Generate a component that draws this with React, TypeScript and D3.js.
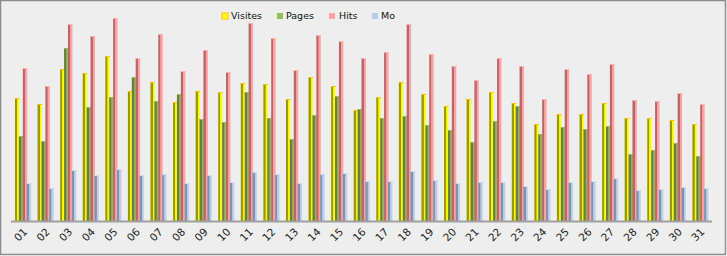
import React from "react";
import * as d3 from "d3";

const days = ["01","02","03","04","05","06","07","08","09","10","11","12","13","14","15","16","17","18","19","20","21","22","23","24","25","26","27","28","29","30","31"];
const visites = [123,117,152,148,165,130,139,119,130,129,138,137,122,144,135,111,124,139,127,115,122,129,118,97,107,107,118,103,103,101,97];
const pages = [85,80,173,114,124,144,120,127,102,99,129,103,82,106,125,112,103,105,96,91,79,100,115,87,94,92,95,67,71,78,65];
const hits = [153,135,197,185,203,163,187,150,171,149,198,183,151,186,180,163,169,197,167,155,141,163,155,122,152,147,157,121,120,128,117];
const mo = [38,33,51,46,52,46,47,38,46,39,49,47,38,47,48,40,40,50,41,38,39,39,35,32,39,40,43,31,32,34,33];

const seriesNames = ["Visites", "Pages", "Hits", "Mo"];
const seriesValues = [visites, pages, hits, mo];

const styles = [
  { dark: "#9c9a00", main: "#f2f200", light: "#ffff40", cap: "#ffc000", legend: "#ffff00", legendStroke: "#ffc000" },
  { dark: "#6b7f3c", main: "#8fab52", light: "#a4c062", cap: "#9bbb59", legend: "#9bbb59", legendStroke: "none" },
  { dark: "#b86868", main: "#ff9a9a", light: "#ffaaaa", cap: "#ffb0b0", legend: "#ff9f9f", legendStroke: "none" },
  { dark: "#7f93ae", main: "#b4c8e2", light: "#c6d6ec", cap: "#cfdcee", legend: "#b8cce4", legendStroke: "none" },
];

export default function App() {
  const W = 727, H = 256;
  const left = 12, right = 712, base = 221;
  const x = d3.scaleBand<string>().domain(days).range([left, right]).padding(0);
  const sx = d3.scalePoint<string>().domain(seriesNames).range([3, 14.7]);
  const y = d3.scaleLinear().domain([0, 210]).range([base, 11]);
  const bw = 4.5;

  const legendItems = [
    { name: "Visites", mx: 222, tx: 231 },
    { name: "Pages", mx: 277, tx: 286 },
    { name: "Hits", mx: 329, tx: 339 },
    { name: "Mo", mx: 372, tx: 381 },
  ];

  return (
    <div style={{ position: "absolute", left: 0, top: 0 }}>
      <svg width={W} height={H} style={{ display: "block" }} fontFamily="'DejaVu Sans', Verdana, sans-serif">
        <defs>
          {styles.map((s, i) => (
            <linearGradient key={i} id={`g${i}`} x1="0" x2="1" y1="0" y2="0">
              <stop offset="0%" stopColor={s.dark} />
              <stop offset="45%" stopColor={s.dark} />
              <stop offset="50%" stopColor={s.main} />
              <stop offset="100%" stopColor={s.light} />
            </linearGradient>
          ))}
        </defs>
        <rect x={0.5} y={0.5} width={W - 2} height={H - 2} fill="#eeeeee" stroke="#8c8c8c" strokeWidth={1.5} />
        {days.map((d, di) => (
          <g key={d}>
            {seriesNames.map((s, si) => {
              const v = seriesValues[si][di];
              const bx = (x(d) as number) + (sx(s) as number);
              const top = y(v);
              return (
                <g key={s}>
                  <rect x={bx} y={top} width={bw} height={base - top} fill={`url(#g${si})`} />
                  <rect x={bx} y={top} width={bw} height={1} fill={styles[si].cap} />
                </g>
              );
            })}
          </g>
        ))}
        <line x1={left - 1} x2={right} y1={base + 0.5} y2={base + 0.5} stroke="#a0a0a0" strokeWidth={2} />
        {days.map((d) => {
          const cx = (x(d) as number) + x.bandwidth() / 2 + 2;
          return (
            <text key={d} transform={`translate(${cx},${base + 9}) rotate(-45)`} textAnchor="end" fontSize={10.5} fill="#222" dy="0.35em">
              {d}
            </text>
          );
        })}
        {legendItems.map((l, i) => (
          <g key={l.name}>
            <rect x={l.mx} y={13} width={6} height={6} fill={styles[i].legend} stroke={styles[i].legendStroke} strokeWidth={1} />
            <text x={l.tx} y={16} dy="0.35em" fontSize={9.5} fill="#111">{l.name}</text>
          </g>
        ))}
      </svg>
    </div>
  );
}
